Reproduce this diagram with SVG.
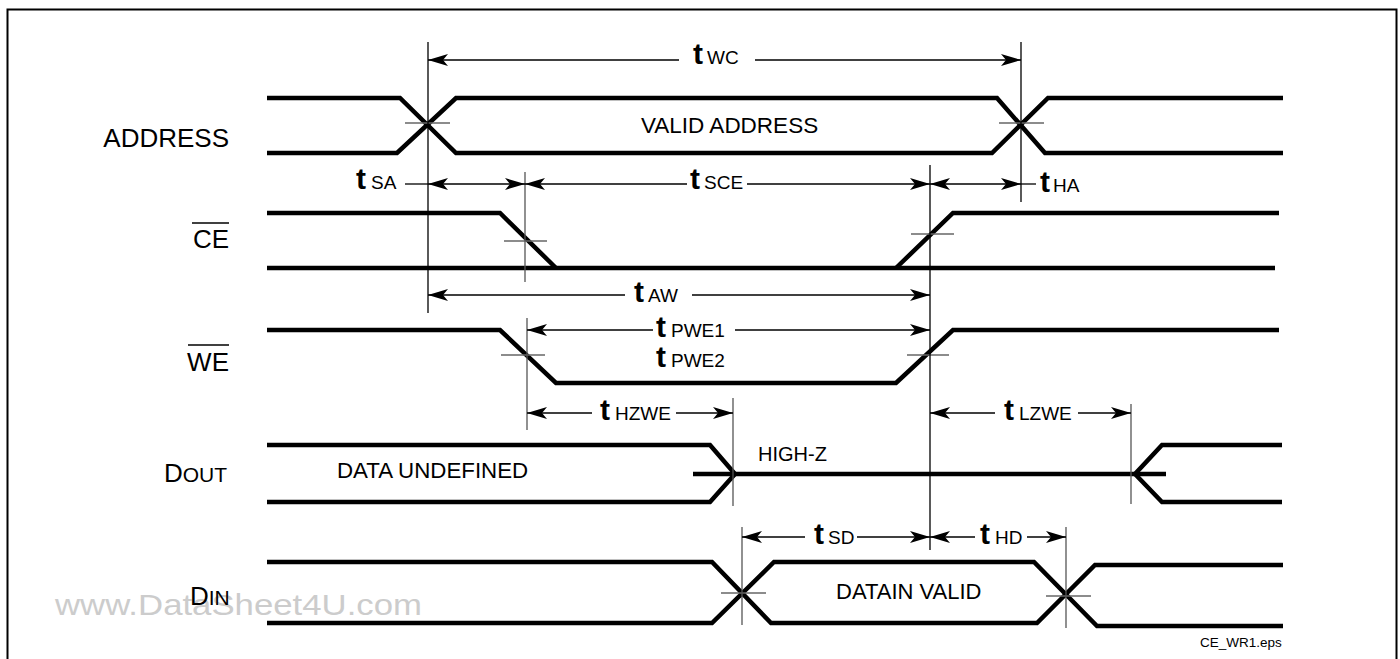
<svg xmlns="http://www.w3.org/2000/svg" width="1400" height="659" viewBox="0 0 1400 659">
<defs>
<marker id="ah" viewBox="0 0 20 12" refX="20" refY="6" markerWidth="20" markerHeight="12" markerUnits="userSpaceOnUse" orient="auto-start-reverse">
<path d="M0,0 L20,6 L0,12 L5,6 Z" fill="#000"/>
</marker>
</defs>
<style>
text{font-family:"Liberation Sans",Arial,sans-serif;fill:#000}
.lbl{font-size:26px;text-anchor:end}
.sc{font-size:21px}
.in{font-size:22.3px}
.t{font-size:30px;font-weight:bold}
.s{font-size:19px}
.sig{fill:none;stroke:#000;stroke-width:4.5;stroke-linejoin:miter}
.ref{stroke:#000;stroke-width:1.3;fill:none}
.refg{stroke:#555;stroke-width:1.3;fill:none}
.tick{stroke:#666;stroke-width:1.6;fill:none}
.dim{stroke:#000;stroke-width:1.3;fill:none}
.a1{marker-start:url(#ah)}
.a2{marker-end:url(#ah)}
.a12{marker-start:url(#ah);marker-end:url(#ah)}
.ov{stroke:#000;stroke-width:1.4}
</style>
<rect x="7.5" y="9.5" width="1389" height="660" fill="#fff" stroke="#000" stroke-width="2"/>

<text x="55" y="615" font-size="30" fill="#cccccc" style="fill:#cccccc" textLength="367" lengthAdjust="spacingAndGlyphs">www.DataSheet4U.com</text>

<g id="address">
<text class="lbl" x="229" y="147">ADDRESS</text>
<path class="sig" d="M267,98 H400 L456,153 H992 L1048,98 H1283"/>
<path class="sig" d="M267,153 H397 L456,98 H997 L1045,153 H1283"/>
<text class="in" x="641" y="133" style="font-size:22.5px">VALID ADDRESS</text>
<line class="tick" x1="405" y1="123" x2="450" y2="123"/>
<line class="tick" x1="999" y1="123" x2="1044" y2="123"/>
</g>

<g id="ce">
<text class="lbl" x="229" y="248">CE</text>
<line class="ov" x1="192" y1="223" x2="229" y2="223"/>
<path class="sig" d="M267,268 H1275"/>
<path class="sig" d="M267,213 H500 L556,268"/>
<path class="sig" d="M896,268 L953,213 H1279"/>
<line class="tick" x1="504" y1="241" x2="547" y2="241"/>
<line class="tick" x1="911" y1="234" x2="954" y2="234"/>
</g>

<g id="we">
<text class="lbl" x="229" y="371">WE</text>
<line class="ov" x1="188" y1="345" x2="229" y2="345"/>
<path class="sig" d="M267,330 H500 L556,383 H896 L953,330 H1279"/>
<line class="tick" x1="501" y1="355" x2="545" y2="355"/>
<line class="tick" x1="907" y1="355" x2="949" y2="355"/>
</g>

<g id="dout">
<text x="164" y="482" font-size="26">D<tspan class="sc">OUT</tspan></text>
<path class="sig" d="M267,445 H710 L735,474"/>
<path class="sig" d="M267,502 H710 L735,474"/>
<path class="sig" d="M693,474 H1166"/>
<path class="sig" d="M1282,445 H1162 L1135,474 L1162,502 H1282"/>
<text class="in" x="337" y="478">DATA UNDEFINED</text>
<text x="758" y="461" font-size="20">HIGH-Z</text>
</g>

<g id="din">
<text x="190" y="605" font-size="26">D<tspan class="sc">IN</tspan></text>
<path class="sig" d="M267,562 H712 L771,623 H1037 L1095,565 H1283"/>
<path class="sig" d="M267,623 H712 L774,562 H1034 L1097,626 H1283"/>
<text class="in" x="836" y="599" style="font-size:22px">DATAIN VALID</text>
<line class="tick" x1="721" y1="593" x2="766" y2="593"/>
<line class="tick" x1="1046" y1="596" x2="1091" y2="596"/>
</g>

<g id="connectors">
<line class="ref" x1="428" y1="42" x2="428" y2="313"/>
<line class="ref" x1="1021" y1="42" x2="1021" y2="202"/>
<line class="refg" x1="525" y1="172" x2="525" y2="282"/>
<line class="refg" x1="527" y1="318" x2="527" y2="430"/>
<line class="ref" x1="930" y1="165" x2="930" y2="550"/>
<line class="refg" x1="733" y1="398" x2="733" y2="506"/>
<line class="refg" x1="1131" y1="404" x2="1131" y2="504"/>
<line class="refg" x1="742" y1="527" x2="742" y2="625"/>
<line class="refg" x1="1066" y1="527" x2="1066" y2="628"/>

<line class="dim a1" x1="428" y1="60" x2="679" y2="60"/>
<line class="dim a2" x1="755" y1="60" x2="1021" y2="60"/>

<line class="dim" x1="405" y1="184" x2="428" y2="184"/>
<line class="dim a12" x1="428" y1="184" x2="525" y2="184"/>
<line class="dim a1" x1="525" y1="184" x2="687" y2="184"/>
<line class="dim a2" x1="747" y1="184" x2="930" y2="184"/>
<line class="dim a12" x1="930" y1="184" x2="1021" y2="184"/>
<line class="dim" x1="1021" y1="184" x2="1036" y2="184"/>

<line class="dim a1" x1="428" y1="295" x2="625" y2="295"/>
<line class="dim a2" x1="692" y1="295" x2="930" y2="295"/>

<line class="dim a1" x1="527" y1="330" x2="653" y2="330"/>
<line class="dim a2" x1="735" y1="330" x2="930" y2="330"/>

<line class="dim a1" x1="527" y1="413" x2="592" y2="413"/>
<line class="dim a2" x1="676" y1="413" x2="733" y2="413"/>

<line class="dim a1" x1="930" y1="413" x2="995" y2="413"/>
<line class="dim a2" x1="1078" y1="413" x2="1131" y2="413"/>

<line class="dim a1" x1="742" y1="537" x2="805" y2="537"/>
<line class="dim a2" x1="857" y1="537" x2="930" y2="537"/>
<line class="dim a1" x1="930" y1="537" x2="975" y2="537"/>
<line class="dim a2" x1="1027" y1="537" x2="1066" y2="537"/>
</g>

<g id="labels">
<text class="t" x="693" y="64">t</text><text class="s" x="707" y="64">WC</text>
<text class="t" x="356" y="189">t</text><text class="s" x="371" y="189">SA</text>
<text class="t" x="690" y="189">t</text><text class="s" x="704" y="189">SCE</text>
<text class="t" x="1040" y="192">t</text><text class="s" x="1053" y="192">HA</text>
<text class="t" x="634" y="302">t</text><text class="s" x="648" y="302">AW</text>
<text class="t" x="656" y="337">t</text><text class="s" x="671" y="337">PWE1</text>
<text class="t" x="656" y="367">t</text><text class="s" x="671" y="367">PWE2</text>
<text class="t" x="600" y="420">t</text><text class="s" x="615" y="420">HZWE</text>
<text class="t" x="1004" y="420">t</text><text class="s" x="1019" y="420">LZWE</text>
<text class="t" x="814" y="544">t</text><text class="s" x="828" y="544">SD</text>
<text class="t" x="980" y="544">t</text><text class="s" x="995" y="544">HD</text>
<text x="1200" y="647" font-size="13.5">CE_WR1.eps</text>
</g>
</svg>
